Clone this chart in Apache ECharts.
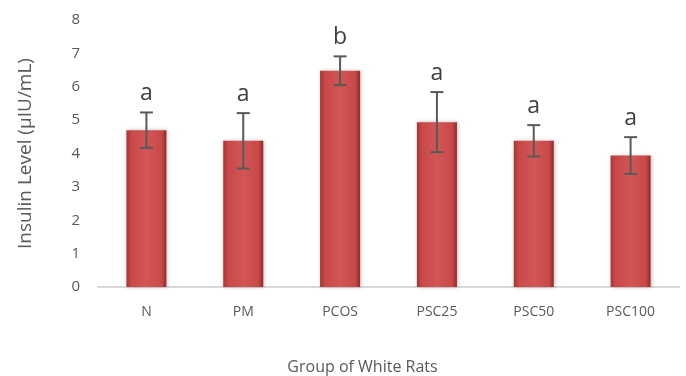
<!DOCTYPE html>
<html><head><meta charset="utf-8">
<script src="https://cdn.jsdelivr.net/npm/echarts@6/dist/echarts.min.js"></script>
<style>html,body{margin:0;padding:0;background:#fff}#c{width:686px;height:376px}</style>
</head><body><div id="c"></div>
<script>
var categories = ['N', 'PM', 'PCOS', 'PSC25', 'PSC50', 'PSC100'];
var means = [4.70, 4.38, 6.48, 4.94, 4.38, 3.94];
var errors = [0.53, 0.83, 0.43, 0.90, 0.47, 0.55];
var letters = ['a', 'a', 'b', 'a', 'a', 'a'];
var yTicks = [0, 1, 2, 3, 4, 5, 6, 7, 8];

var errData = categories.map(function (c, i) {
  return [i, means[i] - errors[i], means[i] + errors[i], letters[i]];
});

var chart = echarts.init(document.getElementById('c'));
var font = '"Open Sans", "DejaVu Sans", sans-serif';
chart.setOption({
  animation: false,
  grid: { left: 98, right: 7, top: 20, bottom: 89, outerBoundsMode: 'none', containLabel: false },
  xAxis: {
    type: 'category', data: categories,
    axisLine: { lineStyle: { color: '#d9d9d9', width: 2 } },
    axisTick: { show: false },
    axisLabel: { color: '#595959', fontSize: 14, margin: 18, fontFamily: font },
    name: 'Group of White Rats', nameLocation: 'middle', nameGap: 80,
    nameTextStyle: { color: '#595959', fontSize: 16, fontFamily: font, verticalAlign: 'middle', padding: [0, 52, 0, 0] }
  },
  yAxis: {
    type: 'value', min: yTicks[0], max: yTicks[yTicks.length - 1], interval: 1,
    splitLine: { show: false },
    axisLine: { show: false }, axisTick: { show: false },
    axisLabel: { color: '#595959', fontSize: 15, margin: 18, fontFamily: font },
    name: 'Insulin Level (µIU/mL)', nameLocation: 'middle', nameGap: 63,
    nameTextStyle: { color: '#595959', fontSize: 19, fontFamily: font }
  },
  series: [{
    type: 'bar', data: means, barWidth: 40,
    itemStyle: {
      color: new echarts.graphic.LinearGradient(0, 0, 1, 0, [
        { offset: 0, color: '#a83434' },
        { offset: 0.12, color: '#c94848' },
        { offset: 0.5, color: '#d25656' },
        { offset: 0.88, color: '#c94848' },
        { offset: 1, color: '#8f2a2a' }
      ]),
      shadowColor: 'rgba(0,0,0,0.25)', shadowBlur: 4, shadowOffsetX: 1
    }
  }, {
    type: 'custom', data: errData, z: 5,
    renderItem: function (params, api) {
      var x = api.value(0);
      var lo = api.coord([x, api.value(1)]);
      var hi = api.coord([x, api.value(2)]);
      var cap = 6.5;
      var st = { stroke: '#595959', lineWidth: 2 };
      return { type: 'group', children: [
        { type: 'line', shape: { x1: lo[0], y1: lo[1], x2: hi[0], y2: hi[1] }, style: st },
        { type: 'line', shape: { x1: lo[0] - cap, y1: lo[1], x2: lo[0] + cap, y2: lo[1] }, style: st },
        { type: 'line', shape: { x1: hi[0] - cap, y1: hi[1], x2: hi[0] + cap, y2: hi[1] }, style: st },
        { type: 'text', x: hi[0], y: hi[1] - 7, style: {
          text: api.value(3), fill: '#404040', font: '23px ' + font,
          textAlign: 'center', textVerticalAlign: 'bottom' } }
      ]};
    }
  }]
});
</script></body></html>
